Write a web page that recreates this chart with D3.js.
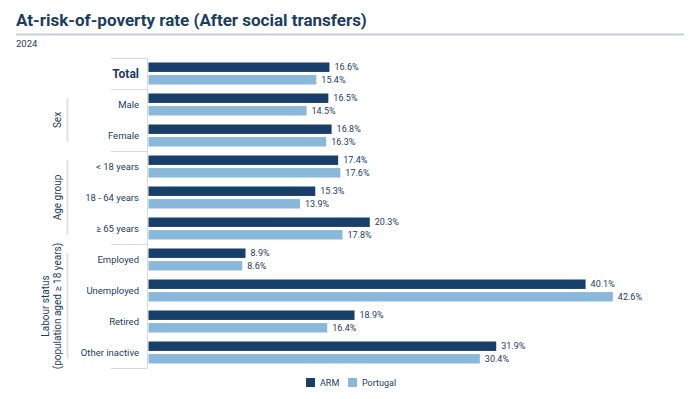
<!DOCTYPE html>
<html>
<head>
<meta charset="utf-8">
<script src="https://cdn.jsdelivr.net/npm/d3@7"></script>
<style>
  body { margin: 0; background: #fff; }
  text { font-family: Roboto, sans-serif; }
</style>
</head>
<body>
<svg id="chart" width="700" height="399"></svg>
<script>
// data
var categories = ['Total', 'Male', 'Female', '< 18 years', '18 - 64 years', '\u2265 65 years',
                  'Employed', 'Unemployed', 'Retired', 'Other inactive'];
var armValues = [16.6, 16.5, 16.8, 17.4, 15.3, 20.3, 8.9, 40.1, 18.9, 31.9];
var portugalValues = [15.4, 14.5, 16.3, 17.6, 13.9, 17.8, 8.6, 42.6, 16.4, 30.4];
var seriesNames = ['ARM', 'Portugal'];
var groups = [
    { lines: ['Sex'], from: 1, to: 2 },
    { lines: ['Age group'], from: 3, to: 5 },
    { lines: ['Labour status', '(population aged \u2265 18 years)'], from: 6, to: 9 }
];

var colors = { 'ARM': '#173f6a', 'Portugal': '#8ab8da' },
    textColor = '#1b3d63',
    ruleColor = '#d9d9d9';

var svg = d3.select('#chart');

// title block
svg.append('text')
    .attr('x', 16).attr('y', 26)
    .style('font-size', '17px').style('font-weight', 'bold')
    .style('fill', textColor)
    .text('At-risk-of-poverty rate (After social transfers)');
svg.append('line')
    .attr('x1', 16).attr('x2', 684).attr('y1', 34.5).attr('y2', 34.5)
    .style('stroke', '#c3cfdb').style('stroke-width', 2);
svg.append('text')
    .attr('x', 16).attr('y', 47)
    .style('font-size', '9.5px').style('fill', textColor)
    .text('2024');

// scales
var y = d3.scaleBand().domain(categories).range([58, 368]);
var x = d3.scaleLinear().domain([0, 45]).range([148.5, 639]);
var inner = d3.scaleBand().domain(seriesNames)
    .range([y.bandwidth() / 2 - 11, y.bandwidth() / 2 + 11]).paddingInner(0.25);

var rows = svg.append('g').selectAll('g')
    .data(categories).enter()
    .append('g')
    .attr('transform', function(d){ return 'translate(0,' + y(d) + ')'; });

seriesNames.forEach(function(s) {
    var vals = s === 'ARM' ? armValues : portugalValues;
    rows.append('rect')
        .attr('x', x(0))
        .attr('y', inner(s))
        .attr('width', function(d, i){ return x(vals[i]) - x(0); })
        .attr('height', inner.bandwidth())
        .style('fill', colors[s]);
    rows.append('text')
        .attr('x', function(d, i){ return x(vals[i]) + 5; })
        .attr('y', inner(s) + inner.bandwidth() / 2)
        .attr('dy', '0.35em')
        .style('font-size', '9px').style('fill', textColor)
        .text(function(d, i){ return vals[i].toFixed(1) + '%'; });
});

// category labels
rows.append('text')
    .attr('x', 139)
    .attr('y', y.bandwidth() / 2)
    .attr('dy', '0.35em')
    .attr('text-anchor', 'end')
    .style('font-size', function(d){ return d === 'Total' ? '12px' : '9.5px'; })
    .style('font-weight', function(d){ return d === 'Total' ? 'bold' : 'normal'; })
    .style('fill', textColor)
    .text(function(d){ return d; });

// axis line and group separators
svg.append('line')
    .attr('x1', 147.5).attr('x2', 147.5).attr('y1', 58).attr('y2', 368)
    .style('stroke', ruleColor).style('stroke-width', 1);
var seps = [categories[0], categories[1], categories[3], categories[6]];
svg.selectAll('.sep').data(seps).enter()
    .append('line').attr('class', 'sep')
    .attr('x1', 111).attr('x2', 147.5)
    .attr('y1', function(d){ return Math.round(y(d)) + 0.5; })
    .attr('y2', function(d){ return Math.round(y(d)) + 0.5; })
    .style('stroke', ruleColor);
svg.append('line')
    .attr('x1', 111).attr('x2', 147.5).attr('y1', 368.5).attr('y2', 368.5)
    .style('stroke', ruleColor);

// group brackets and rotated labels
groups.forEach(function(g) {
    var y0 = y(categories[g.from]) + 9,
        y1 = y(categories[g.to]) + y.bandwidth() - 9,
        mid = (y0 + y1) / 2;
    svg.append('line')
        .attr('x1', 67.5).attr('x2', 67.5).attr('y1', y0).attr('y2', y1)
        .style('stroke', '#e3e3e3').style('stroke-width', 2);
    var n = g.lines.length;
    g.lines.forEach(function(l, i) {
        var cx = 61 - (n - 1 - i) * 12;
        svg.append('text')
            .attr('transform', 'translate(' + cx + ',' + mid + ') rotate(-90)')
            .attr('text-anchor', 'middle')
            .style('font-size', '10px').style('fill', textColor)
            .text(l);
    });
});

// legend
var legend = svg.append('g').attr('transform', 'translate(306,378)');
var lx = [0, 42];
seriesNames.forEach(function(s, i) {
    legend.append('rect')
        .attr('x', lx[i]).attr('y', 0)
        .attr('width', 9).attr('height', 9)
        .style('fill', colors[s]);
    legend.append('text')
        .attr('x', lx[i] + 14).attr('y', 8)
        .style('font-size', '9px').style('fill', textColor)
        .text(s);
});
</script>
</body>
</html>
